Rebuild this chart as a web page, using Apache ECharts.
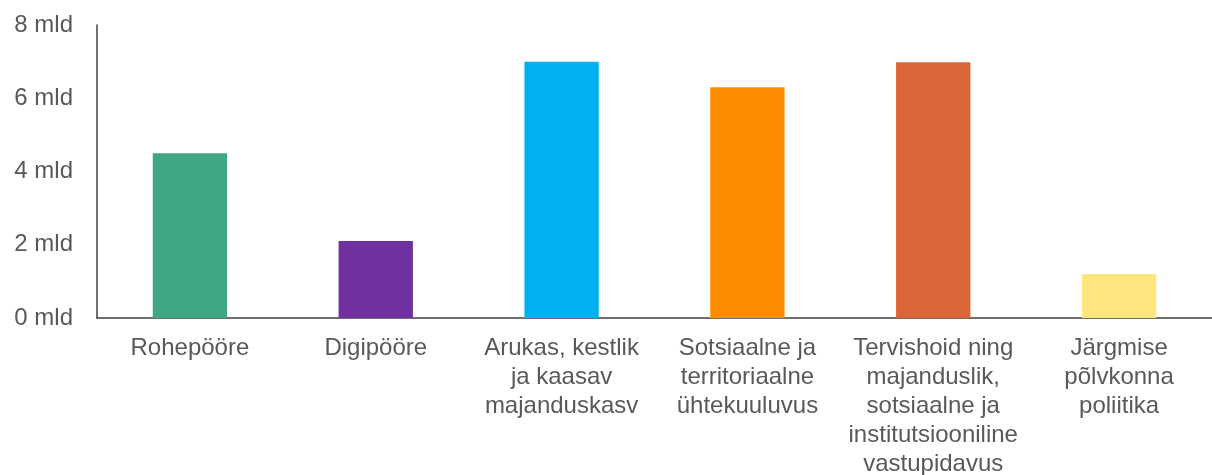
<!DOCTYPE html>
<html>
<head>
<meta charset="utf-8">
<script src="https://cdn.jsdelivr.net/npm/echarts@6/dist/echarts.min.js"></script>
<style>
  html, body { margin: 0; padding: 0; background: #fff; }
  #chart { width: 1212px; height: 475px; }
</style>
</head>
<body>
<div id="chart"></div>
<script>
// kategooriad ja väärtused (mld)
var categories = [
  "Rohepööre",
  "Digipööre",
  "Arukas, kestlik\nja kaasav\nmajanduskasv",
  "Sotsiaalne ja\nterritoriaalne\nühtekuuluvus",
  "Tervishoid ning\nmajanduslik,\nsotsiaalne ja\ninstitutsiooniline\nvastupidavus",
  "Järgmise\npõlvkonna\npoliitika"
];
var values = [4.5, 2.1, 7.0, 6.3, 6.98, 1.2];
var barColors = ["#3FA784", "#7030A0", "#00B0F0", "#FF8C00", "#DA6638", "#FFE57E"];
var yTicks = [0, 2, 4, 6, 8];

var myChart = echarts.init(document.getElementById("chart"));
var option = {
  animation: false,
  textStyle: { fontFamily: "Liberation Sans, Arial, sans-serif" },
  grid: { left: 97, right: 0, top: 25, bottom: 157, outerBoundsMode: "none", containLabel: false },
  xAxis: {
    type: "category",
    data: categories,
    axisTick: { show: false },
    axisLine: { lineStyle: { color: "#404040", width: 1.5 } },
    axisLabel: {
      interval: 0,
      color: "#595959",
      fontSize: 24,
      lineHeight: 29,
      margin: 16
    }
  },
  yAxis: {
    type: "value",
    min: yTicks[0],
    max: yTicks[yTicks.length - 1],
    interval: 2,
    splitLine: { show: false },
    axisTick: { show: false },
    axisLine: { show: true, lineStyle: { color: "#404040", width: 1.5 } },
    axisLabel: {
      color: "#595959",
      fontSize: 24,
      margin: 24,
      formatter: function (v) { return v + " mld"; }
    }
  },
  series: [
    {
      type: "bar",
      barWidth: "40%",
      data: values.map(function (v, i) {
        return { value: v, itemStyle: { color: barColors[i] } };
      })
    }
  ]
};
myChart.setOption(option);
window.addEventListener("resize", function () { myChart.resize(); });
</script>
</body>
</html>
